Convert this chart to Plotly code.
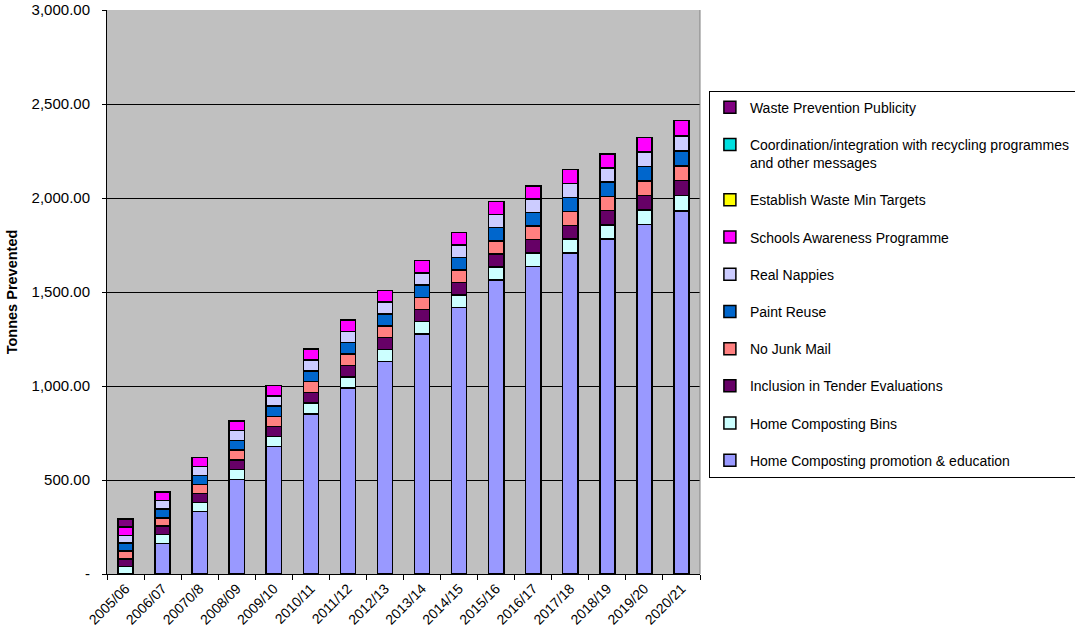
import plotly.graph_objects as go

years = ["2005/06", "2006/07", "20070/8", "2008/09", "2009/10", "2010/11", "2011/12",
         "2012/13", "2013/14", "2014/15", "2015/16", "2016/17", "2017/18", "2018/19",
         "2019/20", "2020/21"]

promo = [0, 163, 333, 503, 677, 851, 989, 1131, 1277, 1418, 1564, 1635, 1707, 1782, 1858, 1932]
bins = [39, 48, 48, 52, 54, 58, 60, 63, 65, 66, 69, 72, 74, 75, 77, 80]
tender = [41, 44, 48, 52, 54, 57, 61, 63, 65, 67, 70, 72, 74, 76, 78, 80]
junk = [43, 44, 48, 52, 54, 58, 60, 63, 65, 66, 69, 71, 74, 75, 77, 79]
paint = [41, 46, 48, 52, 54, 57, 61, 63, 65, 67, 70, 72, 74, 76, 78, 80]
nappies = [41, 46, 48, 52, 54, 58, 60, 63, 65, 66, 69, 72, 74, 75, 77, 80]
schools = [44, 46, 48, 52, 55, 58, 61, 63, 65, 67, 70, 71, 74, 76, 78, 80]
targets = [0] * 16
coord = [0] * 16
publicity = [44, 0, 0, 0, 0, 0, 0, 0, 0, 0, 0, 0, 0, 0, 0, 0]

series = [
    ("Home Composting promotion & education", promo, "#9999FF"),
    ("Home Composting Bins", bins, "#CCFFFF"),
    ("Inclusion in Tender Evaluations", tender, "#660066"),
    ("No Junk Mail", junk, "#FF8080"),
    ("Paint Reuse", paint, "#0066CC"),
    ("Real Nappies", nappies, "#CCCCFF"),
    ("Schools Awareness Programme", schools, "#FF00FF"),
    ("Establish Waste Min Targets", targets, "#FFFF00"),
    ("Coordination/integration with recycling programmes<br>and other messages", coord, "#00E0E0"),
    ("Waste Prevention Publicity", publicity, "#800080"),
]

yticks = [0, 500, 1000, 1500, 2000, 2500, 3000]
ytext = ["-", "500.00", "1,000.00", "1,500.00", "2,000.00", "2,500.00", "3,000.00"]

fig = go.Figure()
n = len(series)
for i, (name, vals, col) in enumerate(series):
    fig.add_trace(go.Bar(
        x=years, y=vals, name=name, legendgroup=str(i), legendrank=n - i,
        marker=dict(color=col, line=dict(color="black", width=1.5)),
    ))

FONT = "Liberation Sans, Arial, sans-serif"
fig.update_layout(
    barmode="stack",
    bargap=0.59,
    width=1075, height=639,
    margin=dict(l=107, r=375, t=10, b=65, autoexpand=False),
    paper_bgcolor="white",
    plot_bgcolor="#C0C0C0",
    font=dict(family=FONT, size=14, color="black"),
    showlegend=True,
    legend=dict(
        traceorder="grouped",
        tracegroupgap=16,
        x=1.015, xanchor="left", y=0.857, yanchor="top",
        bgcolor="white", bordercolor="black", borderwidth=1,
        font=dict(family=FONT, size=14, color="black"),
        valign="top",
        itemwidth=30,
    ),
    xaxis=dict(
        type="category",
        tickangle=-45,
        ticks="outside", ticklen=5, tickcolor="black",
        tickson="boundaries",
        showline=True, linecolor="black", linewidth=1,
        showgrid=False,
        automargin=False,
        tickfont=dict(family=FONT, size=14),
    ),
    yaxis=dict(
        range=[0, 3000],
        tickvals=yticks, ticktext=ytext,
        ticks="outside", ticklen=4, tickcolor="black",
        ticklabelstandoff=9,
        showline=True, linecolor="black", linewidth=1,
        showgrid=True, gridcolor="black", gridwidth=1,
        zeroline=False,
        automargin=False,
        tickfont=dict(family=FONT, size=15),
        title=dict(text="<b>Tonnes Prevented</b>", font=dict(family=FONT, size=14.5), standoff=10),
    ),
    shapes=[dict(type="line", xref="paper", yref="paper", x0=1, x1=1, y0=0, y1=1,
                 line=dict(color="#808080", width=1))],
)

fig.write_html("out.html")
